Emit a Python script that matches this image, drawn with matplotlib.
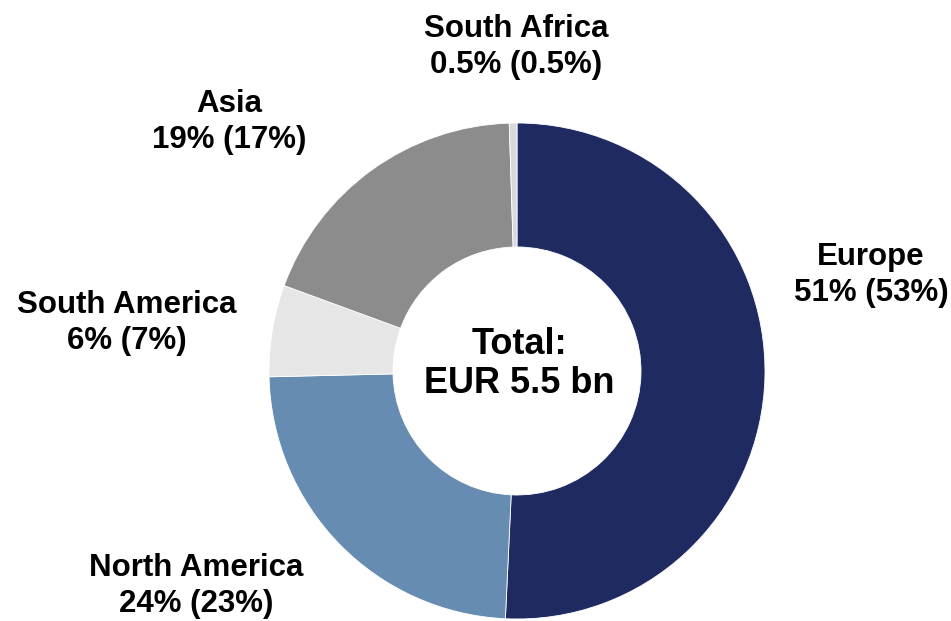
import matplotlib
matplotlib.use("Agg")
import matplotlib.pyplot as plt

regions = ["Europe", "North America", "South America", "Asia", "South Africa"]
shares = [51, 24, 6, 19, 0.5]
prev_shares = ["53%", "23%", "7%", "17%", "0.5%"]
share_labels = ["51%", "24%", "6%", "19%", "0.5%"]
colors = ["#1F2A60", "#668CB1", "#E6E6E6", "#8C8C8C", "#D9D9D9"]
total_text = "Total:\nEUR 5.5 bn"

W, H = 951, 621
fig = plt.figure(figsize=(W / 100, H / 100), dpi=100)
ax = fig.add_axes([0, 0, 1, 1])
ax.set_xlim(0, W)
ax.set_ylim(0, H)
ax.set_aspect("equal")
ax.axis("off")

cx, cy = 517, H - 371
R = 248
ax.pie(shares, colors=colors, startangle=90, counterclock=False,
       center=(cx, cy), radius=R,
       wedgeprops=dict(width=R * 0.5, edgecolor="white", linewidth=0.6))
ax.set_xlim(0, W)
ax.set_ylim(0, H)

font = dict(family=["Liberation Sans", "DejaVu Sans"], fontweight="bold",
            color="black", ha="center", va="center")
label_pos = {
    "Europe": (871, 275),
    "North America": (196, 586),
    "South America": (127, 323),
    "Asia": (229, 122),
    "South Africa": (516, 47),
}
for r, s, p in zip(regions, share_labels, prev_shares):
    x, y = label_pos[r]
    ax.text(x, H - y, f"{r}\n{s} ({p})", fontsize=22.5, linespacing=1.3, **font)

ax.text(519, H - 364, total_text, fontsize=26, linespacing=1.15, **font)

fig.savefig("out.png", dpi=100)
